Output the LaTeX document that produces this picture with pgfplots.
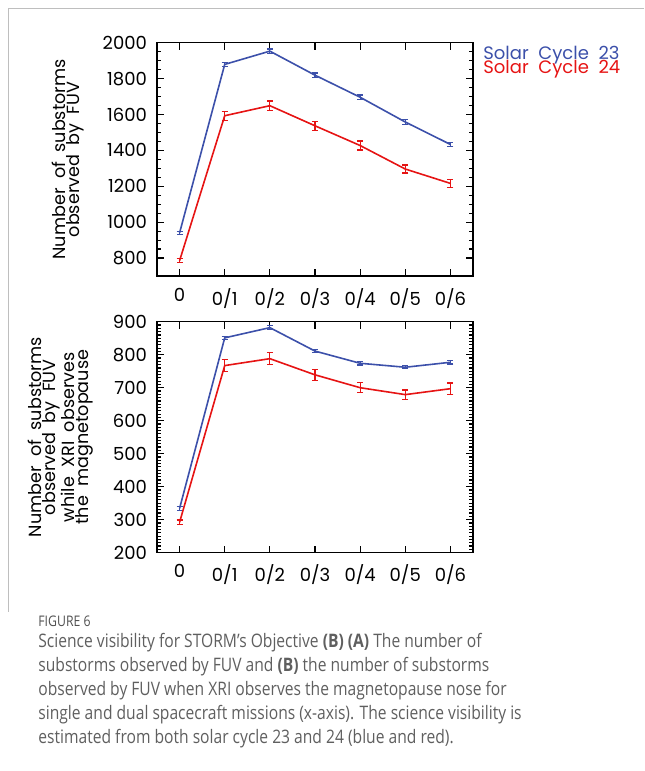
\documentclass[border=0pt]{standalone}
\usepackage{fontspec}
\usepackage{pgfplots}
\pgfplotsset{compat=1.18}
\setmainfont{Poppins}
\newfontfamily\capfont[FakeStretch=0.84]{Open Sans}
\definecolor{cblue}{RGB}{60,80,170}
\definecolor{cred}{RGB}{230,20,20}
\definecolor{capgray}{RGB}{95,95,95}
\definecolor{figgray}{RGB}{80,80,80}
\definecolor{framegray}{RGB}{190,190,190}
\pgfplotsset{storm/.style={
  scale only axis, width=158pt, anchor=south west,
  xmin=-0.5, xmax=6.5, xtick={0,...,6},
  xticklabels={0,0/1,0/2,0/3,0/4,0/5,0/6},
  tick align=inside, major tick length=3.5pt, minor tick length=2pt,
  axis line style={line width=0.75pt},
  tick style={line width=0.6pt, black},
  every tick label/.append style={font=\fontsize{9}{9}\selectfont},
  /pgf/number format/assume math mode=true,
  /pgf/number format/1000 sep={},
  xticklabel style={yshift=-2.5pt},
  yticklabel style={xshift=-1.5pt},
  ylabel style={align=center, font=\fontsize{8.8}{7}\selectfont, anchor=center},
  every axis plot/.append style={line width=0.8pt},
  error bars/y dir=both, error bars/y explicit,
}}
\newcommand{\wsp}{\ \ }
\begin{document}
\begin{tikzpicture}
\path[use as bounding box] (0pt,0pt) rectangle (322pt,385.5pt);
\draw[framegray, line width=0.5pt] (322pt,381pt) -- (4pt,381pt) -- (4pt,79.5pt);
% top axis
\begin{axis}[storm, at={(78.5pt,247.5pt)}, height=116.65pt,
  ymin=700, ymax=2000, ytick={800,1000,...,2000}, minor y tick num=3,
  ylabel={Number\wsp of\wsp substorms\\observed\wsp by\wsp FUV},
  ylabel style={at={(axis description cs:-0.283,0.5)}}]
\addplot[cblue, error bars/.cd, error bar style={cblue, line width=0.6pt}, error mark options={rotate=90, mark size=1.5pt, cblue, line width=0.6pt}]
 table[x=x, y=y, y error=e] {
x y e
0 940 8
1 1879 12
2 1953 12
3 1819 12
4 1696 12
5 1558 12
6 1433 10
};
\addplot[cred, error bars/.cd, error bar style={cred, line width=0.6pt}, error mark options={rotate=90, mark size=1.5pt, cred, line width=0.6pt}]
 table[x=x, y=y, y error=e] {
x y e
0 785 12
1 1593 25
2 1649 26
3 1537 26
4 1427 25
5 1296 22
6 1216 22
};
\end{axis}
% bottom axis
\begin{axis}[storm, at={(78.5pt,109.15pt)}, height=115.5pt,
  ymin=200, ymax=900, ytick={200,300,...,900}, minor y tick num=9,
  ylabel={Number\wsp of\wsp substorms\\observed\wsp by\wsp FUV\\while\wsp XRI\wsp observes\\the\wsp magnetopause},
  ylabel style={at={(axis description cs:-0.305,0.5)}}]
\addplot[cblue, error bars/.cd, error bar style={cblue, line width=0.6pt}, error mark options={rotate=90, mark size=1.5pt, cblue, line width=0.6pt}]
 table[x=x, y=y, y error=e] {
x y e
0 334 5
1 851 5
2 882 6
3 811 5
4 774 5
5 762 5
6 777 5
};
\addplot[cred, error bars/.cd, error bar style={cred, line width=0.6pt}, error mark options={rotate=90, mark size=1.5pt, cred, line width=0.6pt}]
 table[x=x, y=y, y error=e] {
x y e
0 292 7
1 767 18
2 788 18
3 739 17
4 700 15
5 679 14
6 697 17
};
\end{axis}
\node[anchor=base west, inner sep=0pt, text=cblue, font=\fontsize{9}{9}\selectfont] at (241.5pt,355.75pt) {Solar\wsp Cycle\wsp 23};
\node[anchor=base west, inner sep=0pt, text=cred, font=\fontsize{9}{9}\selectfont] at (241.5pt,348.75pt) {Solar\wsp Cycle\wsp 24};
% caption
\begin{scope}[every node/.style={anchor=base west, inner sep=0pt, text=capgray, font=\capfont\fontsize{9.3}{12}\selectfont}]
\node[text=figgray, font=\capfont\fontsize{7.3}{7}\selectfont] at (19pt,72.2pt) {FIGURE 6};
\node at (19pt,61.75pt) {Science visibility for STORM’s Objective \textbf{(B)} \textbf{(A)} The number of};
\node at (19pt,49.75pt) {substorms observed by FUV and \textbf{(B)} the number of substorms};
\node at (19pt,37.75pt) {observed by FUV when XRI observes the magnetopause nose for};
\node at (19pt,25.75pt) {single and dual spacecraft missions (x-axis). The science visibility is};
\node at (19pt,13.75pt) {estimated from both solar cycle 23 and 24 (blue and red).};
\end{scope}
\end{tikzpicture}
\end{document}
